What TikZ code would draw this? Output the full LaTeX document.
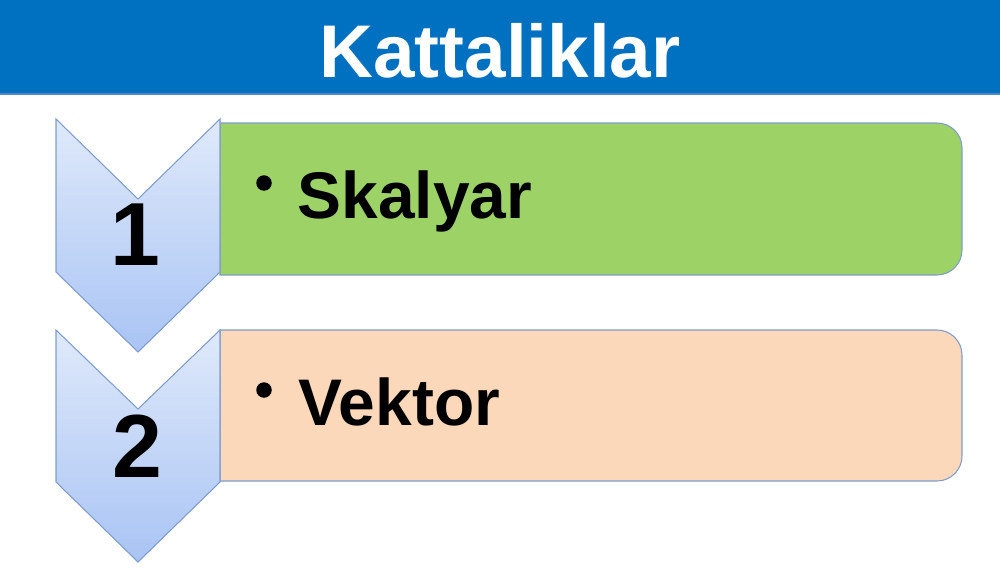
\documentclass[tikz,border=0pt]{standalone}
\usepackage{fontspec}
\setmainfont{Liberation Sans}
\usepackage{tikz}
\usetikzlibrary{calc}
\usetikzlibrary{positioning}

\definecolor{headblue}{HTML}{0070C0}
\definecolor{skalyargreen}{HTML}{9DD266}
\definecolor{vektorpeach}{HTML}{FBD8BA}
\definecolor{chevtop}{HTML}{DFE9FA}
\definecolor{chevbot}{HTML}{A9C4F4}
\definecolor{edgeblue}{HTML}{7F9CCB}

\begin{document}
\begin{tikzpicture}[x=0.02cm, y=0.02cm, line width=0.6pt,
  title text/.style={text=white, font=\fontsize{42.5}{48}\selectfont\bfseries, inner sep=0pt},
  number text/.style={font=\fontsize{51}{56}\selectfont\bfseries, inner sep=0pt},
  item text/.style={font=\fontsize{37.5}{42}\selectfont\bfseries, inner sep=0pt, anchor=base west},
  bullet dot/.style={fill, circle, inner sep=0pt, minimum size=0.31cm}]
\tikzstyle{chevron}=[draw=edgeblue, top color=chevtop, bottom color=chevbot]
\tikzstyle{item box}=[draw=edgeblue]
\useasboundingbox (0,0) rectangle (1000,576);
% header
\fill[headblue] (0,482) rectangle (1000,576);
\draw[edgeblue!60!headblue] (0,482) -- (1000,482);
\node (title) [title text, anchor=base] at (500,499) {Kattaliklar};
% boxes
\draw[item box, fill=skalyargreen] (220,301) -- (220,453) -- (937,453) arc[start angle=90, end angle=0, radius=25] -- (962,326) arc[start angle=0, end angle=-90, radius=25] -- cycle;
\draw[item box, fill=vektorpeach] (220,95) -- (220,246) -- (937,246) arc[start angle=90, end angle=0, radius=25] -- (962,120) arc[start angle=0, end angle=-90, radius=25] -- cycle;
% chevrons
\draw[chevron] (56,457) -- (138,377) -- (220,457) -- (220,304) -- (138,224) -- (56,304) -- cycle;
\draw[chevron] (56,246) -- (138,167) -- (220,246) -- (220,94) -- (138,14) -- (56,94) -- cycle;
\node (num1) [number text, anchor=base] at (135,311) {1};
\node (num2) [number text, anchor=base] at (137,99) {2};
% items
\node (dot1) [bullet dot] at (264,393) {};
\node (item1) [item text] at (297,358) {Skalyar};
\node (dot2) [bullet dot] at (264,186) {};
\node (item2) [item text] at (298,151) {Vektor};
\end{tikzpicture}
\end{document}
